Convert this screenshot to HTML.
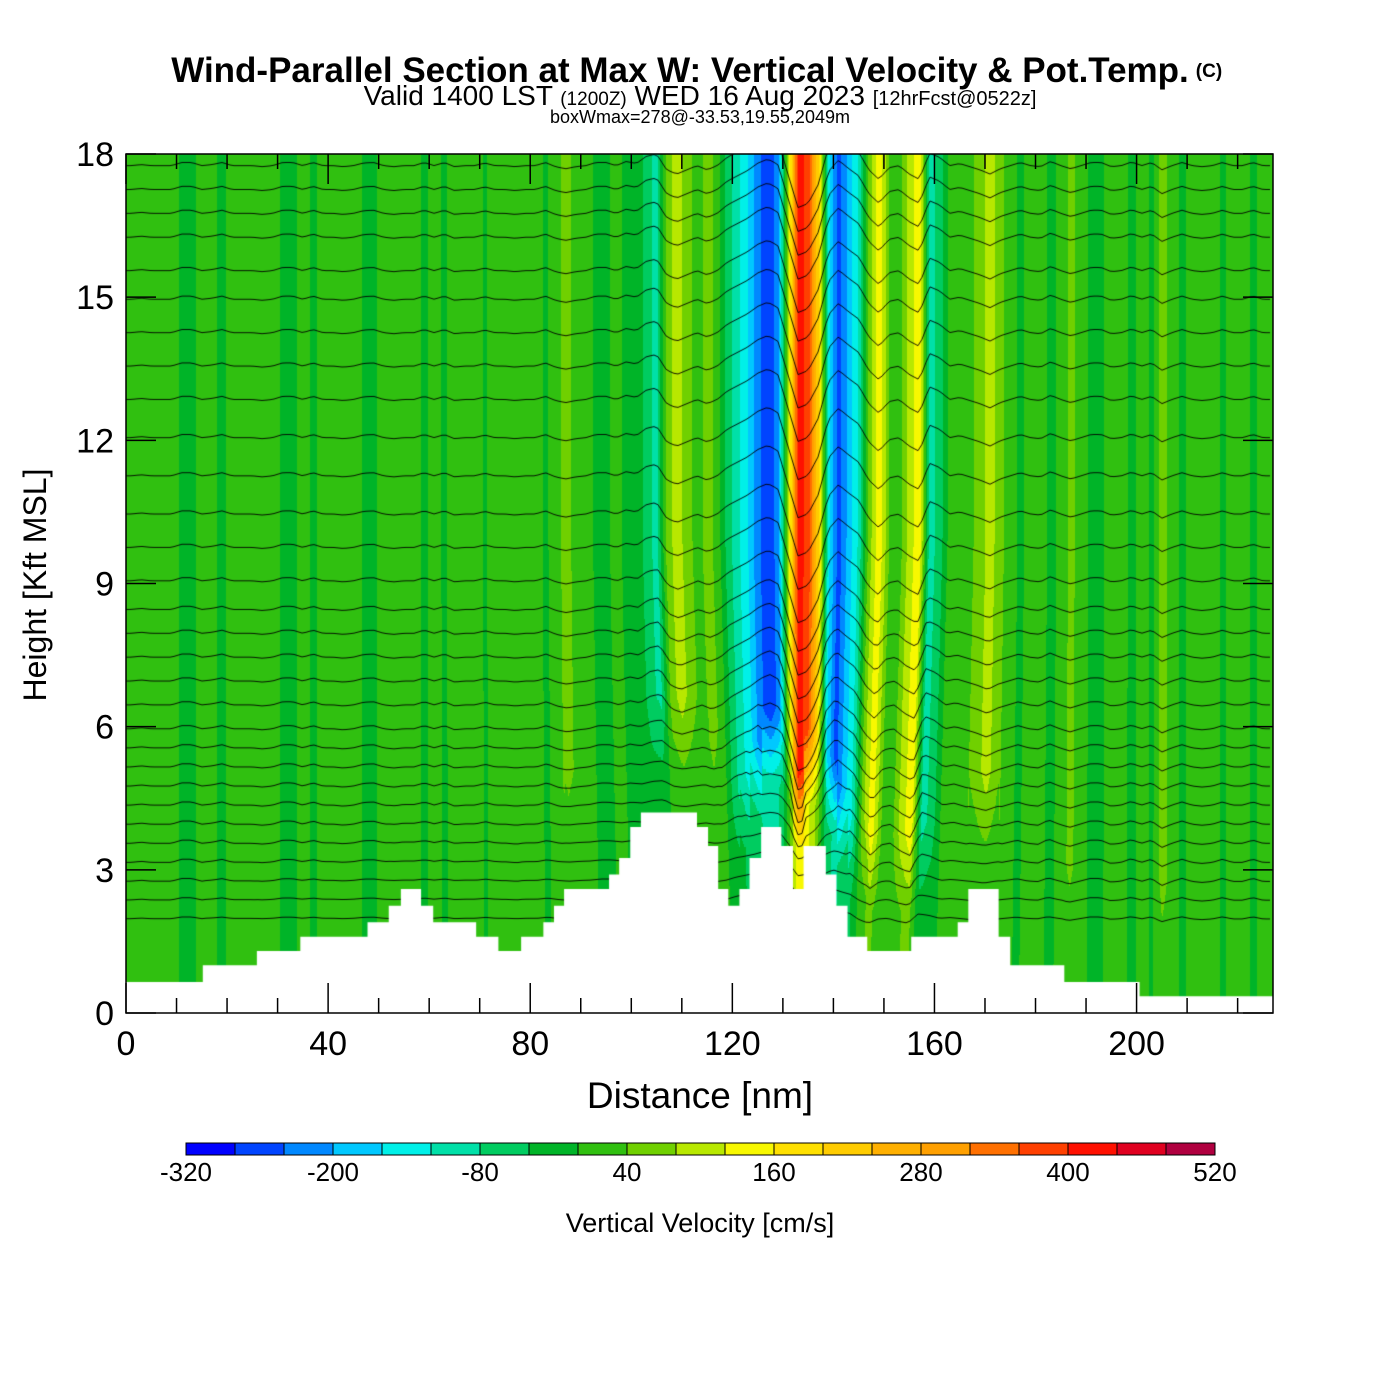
<!DOCTYPE html>
<html><head><meta charset="utf-8"><style>
html,body{margin:0;padding:0;background:#fff;}
#wrap{position:relative;width:1400px;height:1400px;overflow:hidden;font-family:"Liberation Sans",sans-serif;}
canvas{position:absolute;left:126px;top:154px;}
svg{position:absolute;left:0;top:0;}
</style></head><body>
<div id="wrap">
<canvas id="field" width="1147" height="859"></canvas>
<svg id="ax" width="1400" height="1400"></svg>
</div>
<script>
// ---- data ----
const distNm = []; for (let i=0;i<114;i++) distNm.push(2*i+1);
const wProfile = [20,10,20,20,20,-10,-10,20,10,-10,20,20,20,30,20,-10,-10,20,-10,20,20,30,20,-5,-10,20,30,20,20,-10,20,-10,30,20,20,-5,20,20,30,20,20,-10,30,50,30,20,-10,-10,20,-20,
0,-70,-90,60,100,60,20,60,20,-60,-110,-160,-230,-270,-220,100,420,380,200,-150,-260,-180,-110,60,150,40,20,100,150,-100,-60,20,0,30,60,100,50,
20,-10,20,30,-20,20,50,20,-10,-10,30,20,-15,20,-10,60,20,-10,20,30,20,-10,20,20,-10,20,20];
const terrainStart = [0,15.2,25.9,34.5,47.8,52,54.4,58.4,60.8,69.3,73.7,78.2,82.6,84.7,86.7,95.6,97.6,99.8,101.9,113,115.2,117.2,119.2,121.4,123.4,125.7,129.7,132,134.1,138.5,140.6,142.8,146.7,155.4,164.6,166.7,172.7,175,185.7,200.6];
const terrainHeight = [0.65,1.0,1.3,1.6,1.9,2.25,2.6,2.25,1.9,1.6,1.3,1.6,1.9,2.25,2.6,2.9,3.25,3.9,4.2,3.9,3.5,2.6,2.25,2.6,3.25,3.9,3.5,2.6,3.5,2.9,2.25,1.6,1.3,1.6,1.9,2.6,1.6,1.0,0.65,0.35];
const thetaBase = [17.8,17.3,16.8,16.3,15.6,15.0,14.3,13.6,12.9,12.1,11.3,10.5,9.8,9.1,8.5,8.0,7.5,7.0,6.5,6.0,5.6,5.2,4.8,4.4,4.0,3.6,3.2,2.8,2.4,2.0];
const cbColors = ["#0000ff","#0044ff","#0088ff","#00c8ff","#00f0e8","#00e0a8","#00cc60","#00b428","#30c010","#70d000","#b8e800","#f8f800","#ffe000","#ffcc00","#ffb000","#ffa000","#ff7000","#ff4000","#ff1000","#e00020","#b00040"];
const cbLabels = ["-320","-200","-80","40","160","280","400","520"];
const xTickLabels = ["0","40","80","120","160","200"];
const yTickLabels = ["0","3","6","9","12","15","18"];
// ---- scales ----
const X0=126,X1=1273,Y0=1013,Y1=154,XMAX=227,YMAX=18;
const xs = d => X0 + d*(X1-X0)/XMAX;
const ys = h => Y0 - h*(Y0-Y1)/YMAX;
const C=133;
function prof(d){
  if(d<=distNm[0]) return wProfile[0];
  if(d>=distNm[distNm.length-1]) return wProfile[wProfile.length-1];
  const i=Math.floor((d-1)/2), t=(d-distNm[i])/2;
  return wProfile[i]*(1-t)+wProfile[i+1]*t;
}
function terr(d){ let h=terrainHeight[0]; for(let i=0;i<terrainStart.length;i++) if(d>=terrainStart[i]) h=terrainHeight[i]; return h; }
function wAt(d,h){
  const f = h<10 ? 0.8+0.02*h : 1;
  const wg = Math.exp(-Math.pow((d-C)/30,2));
  const k = 1-wg*(1-f);
  let v = prof(C+(d-C)/k);
  const above = h-terr(d);
  const amp = Math.max(0.35, Math.min(1, above/2.5));
  return v*amp;
}
function colorOf(v){ let i=Math.floor((v+320)/40); i=Math.max(0,Math.min(20,i)); return cbColors[i]; }
// ---- field ----
const cv=document.getElementById('field'), ctx=cv.getContext('2d');
for(let px=0;px<1147;px+=1){
  const d=px*XMAX/1147;
  for(let py=0;py<859;py+=3){
    const h=(859-py)*YMAX/859;
    ctx.fillStyle=colorOf(wAt(d,h));
    ctx.fillRect(px,py,1,3);
  }
}
// contours
ctx.strokeStyle='#000'; ctx.lineWidth=0.9;
thetaBase.forEach(b=>{
  ctx.beginPath();
  for(let px=0;px<=1147;px+=4){
    const d=px*XMAX/1147;
    const hh=b-0.0022*wAt(d,b);
    const py=(YMAX-hh)*859/YMAX;
    if(px===0) ctx.moveTo(px,py); else ctx.lineTo(px,py);
  }
  ctx.stroke();
});
// terrain
ctx.fillStyle='#fff';
ctx.beginPath(); ctx.moveTo(0,859);
for(let i=0;i<terrainStart.length;i++){
  const xa=terrainStart[i]*1147/XMAX, xb=(i+1<terrainStart.length?terrainStart[i+1]:XMAX)*1147/XMAX;
  const py=(YMAX-terrainHeight[i])*859/YMAX;
  ctx.lineTo(xa,py); ctx.lineTo(xb,py);
}
ctx.lineTo(1147,859); ctx.closePath(); ctx.fill();
// ---- svg axes ----
const NS='http://www.w3.org/2000/svg', svg=document.getElementById('ax');
function mk(tag,attrs,txt){const e=document.createElementNS(NS,tag);for(const k in attrs)e.setAttribute(k,attrs[k]);if(txt!==undefined)e.textContent=txt;svg.appendChild(e);return e;}
let e;
e=mk('rect',{x:X0,y:Y1,width:X1-X0,height:Y0-Y1,fill:'none',stroke:'#000','stroke-width':1.5});


for(let d=0;d<=XMAX;d+=10){
  const L=(d%40===0)?30:15;
  e=mk('line',{x1:xs(d),x2:xs(d),y1:Y0,y2:Y0-L,stroke:'#000','stroke-width':1.5});
  
  
  e=mk('line',{x1:xs(d),x2:xs(d),y1:Y1,y2:Y1+L,stroke:'#000','stroke-width':1.5});
  
  
}
xTickLabels.forEach(t=>{
  e=mk('text',{x:xs(+t),y:1055,'font-size':34,'text-anchor':'middle'},t);
  
  
});
yTickLabels.forEach(t=>{
  const y=ys(+t);
  e=mk('line',{x1:X0,x2:X0+30,y1:y,y2:y,stroke:'#000','stroke-width':1.5});
  
  
  e=mk('line',{x1:X1,x2:X1-30,y1:y,y2:y,stroke:'#000','stroke-width':1.5});
  
  
  e=mk('text',{x:114,y:y+12,'font-size':34,'text-anchor':'end'},t);
  
  
});
e=mk('text',{x:700,y:1108,'font-size':37,'text-anchor':'middle'},'Distance [nm]');


e=mk('text',{x:46,y:585,'font-size':32,'text-anchor':'middle',transform:'rotate(-90 46 585)'},'Height [Kft MSL]');


e=mk('text',{x:680,y:82,'font-size':35,'font-weight':'bold','text-anchor':'middle'},'Wind-Parallel Section at Max W: Vertical Velocity & Pot.Temp.');


e=mk('text',{x:1209,y:77,'font-size':19,'font-weight':'bold','text-anchor':'middle'},'(C)');


e=mk('text',{x:700,y:105,'font-size':28,'text-anchor':'middle'},'');
e.innerHTML='Valid 1400 LST <tspan font-size="19">(1200Z)</tspan> WED 16 Aug 2023 <tspan font-size="20">[12hrFcst@0522z]</tspan>';


e=mk('text',{x:700,y:123,'font-size':18,'text-anchor':'middle'},'boxWmax=278@-33.53,19.55,2049m');


// colorbar
const CB0=186,CB1=1215,cw=(CB1-CB0)/cbColors.length;
cbColors.forEach((c,i)=>{
  e=mk('rect',{x:CB0+i*cw,y:1143,width:cw,height:12,fill:c,stroke:'#000','stroke-width':1});
  
  
});
cbLabels.forEach(t=>{
  const x=CB0+(+t+320)/40*cw;
  e=mk('text',{x:x,y:1181,'font-size':26,'text-anchor':'middle'},t);
  
  
});
e=mk('text',{x:700,y:1232,'font-size':27,'text-anchor':'middle'},'Vertical Velocity [cm/s]');


</script>
</body></html>
